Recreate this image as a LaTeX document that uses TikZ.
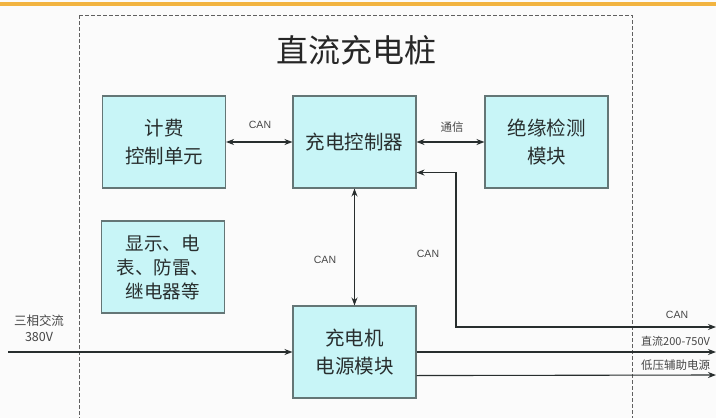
\documentclass[tikz,border=0pt]{standalone}
\usepackage{fontspec}
\setmainfont{Liberation Sans}
\newfontfamily\cjk{Noto Sans CJK SC}
\usetikzlibrary{arrows.meta,calc}
\definecolor{boxfill}{RGB}{200,245,247}
\definecolor{boxline}{RGB}{100,118,118}
\definecolor{ink}{RGB}{40,46,46}
\definecolor{lbl}{RGB}{70,70,70}
\definecolor{topbar}{RGB}{242,180,65}
\tikzset{
  blk/.style={draw=boxline,line width=1.1pt,fill=boxfill,minimum width=123pt,minimum height=92pt,inner sep=0pt,align=center,text=ink,font=\cjk\fontsize{19.5}{28}\selectfont},
  conn/.style={draw=ink,line width=1.1pt,-{Stealth[length=8pt,width=6pt]}},
  dconn/.style={draw=ink,line width=1.1pt,{Stealth[length=8pt,width=6pt]}-{Stealth[length=8pt,width=6pt]}},
  can/.style={text=lbl,font=\fontsize{10.5}{12}\selectfont,inner sep=0pt},
  cjklbl/.style={text=lbl,font=\cjk\fontsize{12.5}{15}\selectfont,inner sep=0pt}
}
\begin{document}
\begin{tikzpicture}[x=1pt,y=-1pt]
\clip (0,0) rectangle (716,418);
\fill[white!97!gray] (0,0) rectangle (716,418);
\fill[topbar] (0,1.5) rectangle (716,6);
\draw[gray!75!black,line width=0.9pt,dash pattern=on 4pt off 2pt] (79,15) -- (632,15) -- (632,430) (79,15) -- (79,430);
\node[text=black!85,font=\cjk\fontsize{32}{36}\selectfont,inner sep=0pt] (title) at (356,50) {直流充电桩};
\node[blk] (fee) at (164,142) {计费\\控制单元};
\node[blk] (ctrl) at (354.5,142) {充电控制器};
\node[blk] (iso) at (546.5,142) {绝缘检测\\模块};
\node[blk,font=\cjk\fontsize{18.5}{24}\selectfont] (disp) at (163,267) {显示、电\\表、防雷、\\继电器等};
\node[blk] (pwr) at (354.5,352) {充电机\\电源模块};
% connectors
\draw[dconn] (fee.east) -- (ctrl.west);
\node[can] (l1) at (260,125) {CAN};
\draw[dconn] (ctrl.east) -- (iso.west);
\node[cjklbl,font=\cjk\fontsize{11.5}{14}\selectfont] (l2) at (452,127) {通信};
\draw[dconn] (ctrl.south) -- (pwr.north);
\node[can] (l3) at (325,260) {CAN};
\coordinate (ctrlp) at ($(ctrl.south east)+(0,-16)$);
\coordinate (o1) at (716,327);
\coordinate (o2) at (716,352);
\coordinate (o3) at (716,375);
\coordinate (in) at (8,352);
\draw[dconn] (ctrlp) -| (456,327) -- (o1);
\node[can] (l4) at (428,254) {CAN};
\node[can] (l5) at (677,315) {CAN};
\draw[conn] (pwr.east) -- (o2);
\draw[conn] ($(pwr.south east)+(0,-23)$) -- (o3);
\node[cjklbl,anchor=west,font=\cjk\fontsize{11}{13}\selectfont] (l6) at (641,341) {直流200-750V};
\node[cjklbl,anchor=west,font=\cjk\fontsize{11.5}{13}\selectfont] (l7) at (641,365) {低压辅助电源};
\draw[conn] (in) -- (pwr.west);
\node[cjklbl,font=\cjk\fontsize{12.5}{16}\selectfont,align=center] (l8) at (39,328) {三相交流\\380V};
\end{tikzpicture}
\end{document}
